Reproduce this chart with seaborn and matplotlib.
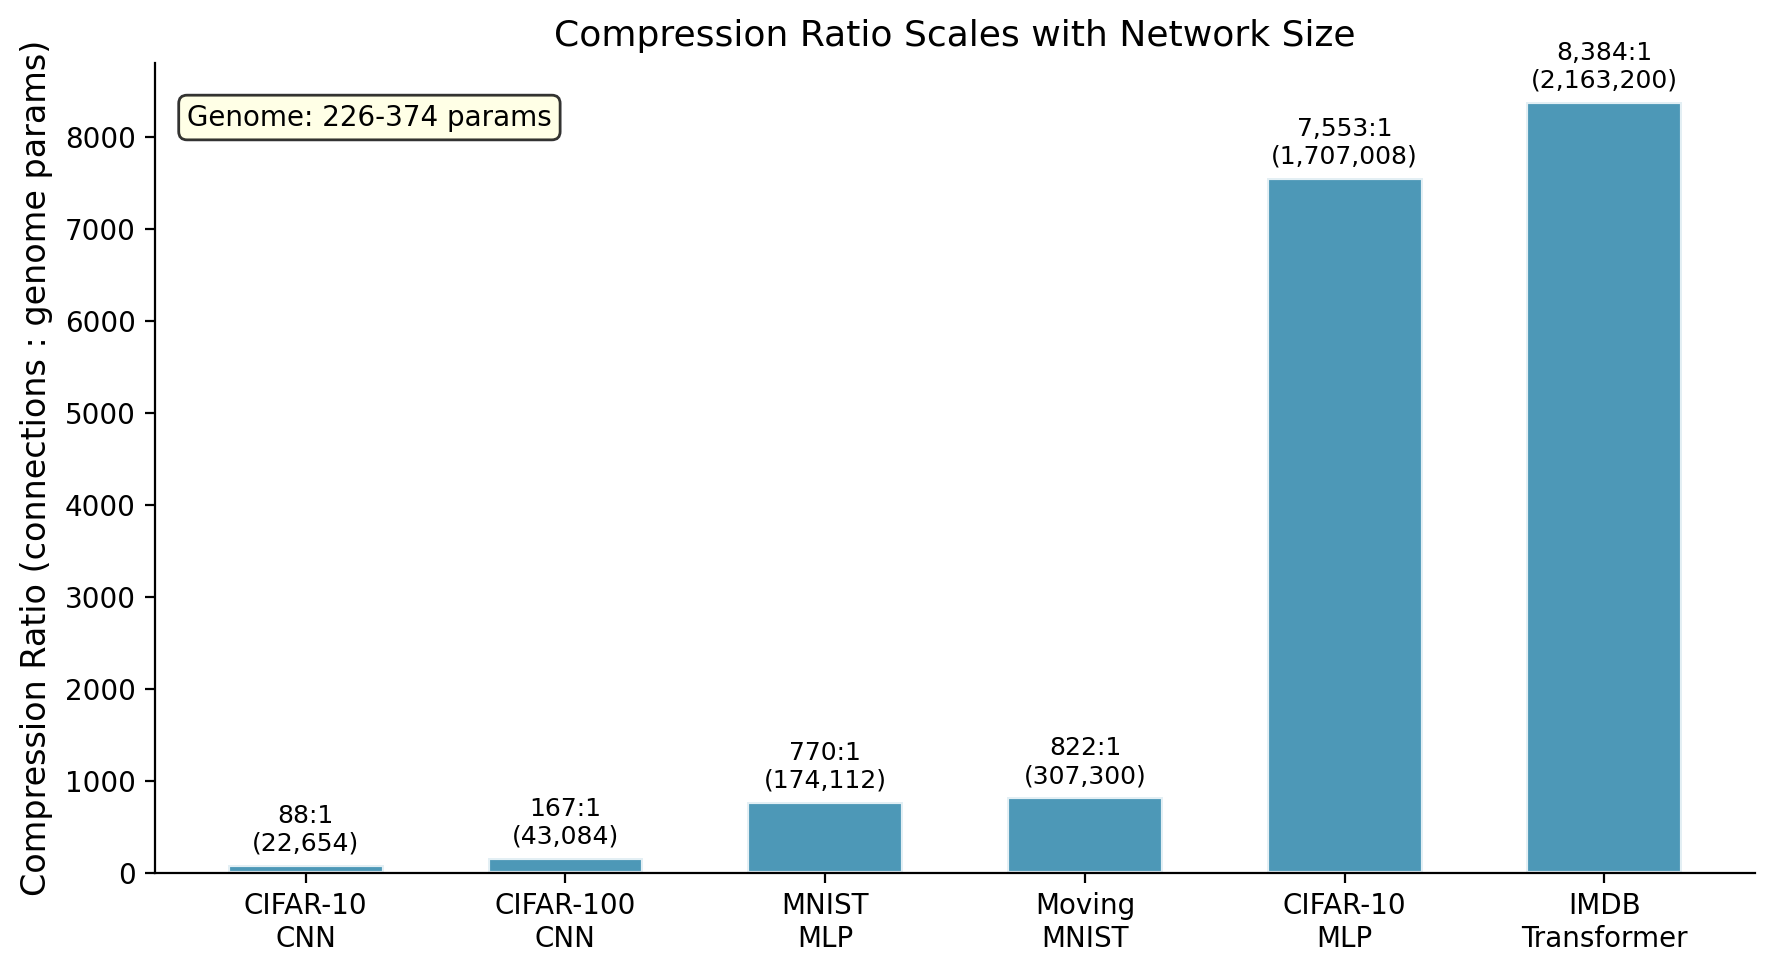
import matplotlib

matplotlib.use("Agg")
import matplotlib.pyplot as plt
import pandas as pd
import seaborn as sns

# values
models = ["CIFAR-10\nCNN", "CIFAR-100\nCNN", "MNIST\nMLP", "Moving\nMNIST", "CIFAR-10\nMLP", "IMDB\nTransformer"]
ratios = [88, 167, 770, 822, 7553, 8384]
connections = [22654, 43084, 174112, 307300, 1707008, 2163200]
genome_note = "Genome: 226-374 params"

df = pd.DataFrame({"model": models, "ratio": ratios, "connections": connections})

fig, ax = plt.subplots(figsize=(8.87, 4.87), dpi=200)
fig.subplots_adjust(left=0.0874, right=0.9893, top=0.9353, bottom=0.1037)

sns.barplot(
    data=df,
    x="model",
    y="ratio",
    color="#2E86AB",
    saturation=1,
    alpha=0.85,
    width=0.6,
    edgecolor="white",
    linewidth=1.5,
    ax=ax,
)

# mimic matplotlib's default 5% margins instead of seaborn's categorical limits
n = len(df)
span = (n - 1) + 0.6
ax.set_xlim(-0.3 - 0.05 * span, n - 1 + 0.3 + 0.05 * span)
ymax = df["ratio"].max()
ax.set_ylim(0, ymax * 1.05)

# ratio and connection count above each bar
for p, r, c in zip(ax.patches, df["ratio"], df["connections"]):
    ax.text(
        p.get_x() + p.get_width() / 2,
        p.get_height() + 100,
        f"{r:,}:1\n({c:,})",
        ha="center",
        va="bottom",
        fontsize=9,
    )

ax.text(
    0.02,
    0.95,
    genome_note,
    transform=ax.transAxes,
    fontsize=10,
    va="top",
    bbox=dict(boxstyle="round", facecolor="lightyellow", alpha=0.8),
)

ax.set_xlabel("")
ax.set_ylabel("Compression Ratio (connections : genome params)", fontsize=12)
ax.set_title("Compression Ratio Scales with Network Size", fontsize=13)
ax.tick_params(labelsize=10)
sns.despine(ax=ax)

fig.savefig("out.png", dpi=200)
